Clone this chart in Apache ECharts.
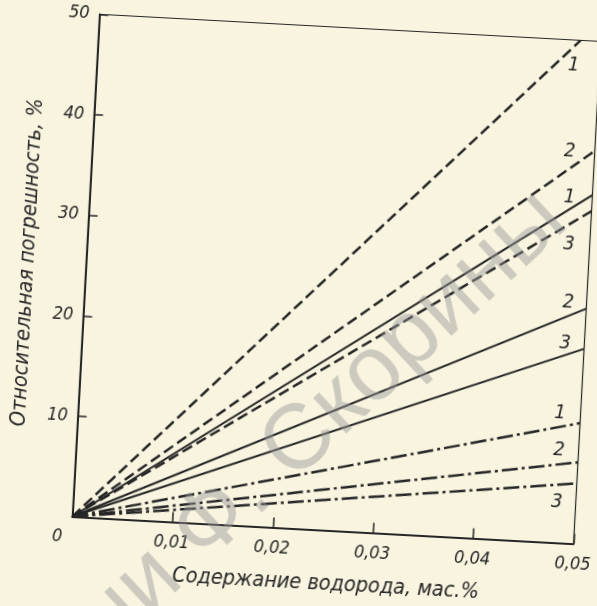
<!DOCTYPE html>
<html><head><meta charset="utf-8">
<script src="https://cdn.jsdelivr.net/npm/echarts@6/dist/echarts.min.js"></script>
<style>
html,body{margin:0;padding:0;width:597px;height:606px;overflow:hidden;background:#f8f4e0;}
#c{position:absolute;left:0;top:0;width:700px;height:720px;transform-origin:336.5px 279px;transform:rotate(3.1deg);}
</style></head><body><div id="c"></div>
<script>
// ---- data ----
const xTickLabels = ['0', '0,01', '0,02', '0,03', '0,04', '0,05'];
const yTickLabels = ['', '10', '20', '30', '40', '50'];
const curveNames = ['1', '2', '3'];
// dashed curves 1..3 : [x, y] end points (all start at origin)
const dashedX = [0.048, 0.05, 0.05];
const dashedY = [50, 39.1, 33.1];
// solid curves 1..3
const solidX = [0.05, 0.05, 0.05];
const solidY = [34.7, 23.4, 19.4];
// dash-dot curves 1..3
const dashDotX = [0.05, 0.05, 0.05];
const dashDotY = [12.0, 8.1, 6.0];
const xName = 'Содержание водорода, мас.%';
const yName = 'Относительная погрешность, %';
const watermarkA = 'ГГУ имени Ф. ';
const watermarkB = 'Скорины';

// ---- styles ----
const ink = '#262626';
const font = "'Liberation Sans Narrow','DejaVu Sans Condensed','Liberation Sans',sans-serif";
const dashedOffsets = [[-5.6, 25.3], [-25, 1.4], [-20.7, 34.7]];
const solidOffsets = [[-22.9, 3.2], [-18.3, -5.5], [-19.3, -5]];
const dashDotOffsets = [[-20.5, -9.4], [-19.6, -11.5], [-19, 19.6]];

function mkSeries(xs, ys, offsets, lineType, width) {
  return xs.map((x, i) => ({
    type: 'line',
    name: curveNames[i],
    data: [[0, 0], [x, ys[i]]],
    symbol: 'none',
    silent: true,
    clip: true,
    lineStyle: { color: ink, width: width, type: lineType },
    markPoint: {
      symbol: 'circle', symbolSize: 1,
      itemStyle: { color: 'rgba(0,0,0,0)' },
      label: {
        show: true, position: 'inside', formatter: curveNames[i],
        offset: offsets[i], color: ink, fontFamily: font, fontStyle: 'italic', fontSize: 20
      },
      data: [{ type: 'max' }]
    }
  }));
}

const chart = echarts.init(document.getElementById('c'), null, { renderer: 'canvas' });
const tickIdx = v => Math.round(v / 0.01);
chart.setOption({
  animation: false,
  backgroundColor: 'transparent',
  grid: {
    left: 85.5, top: 27.5, width: 502, height: 503,
    show: true, borderColor: ink, borderWidth: 1.2, backgroundColor: 'transparent',
    containLabel: false, outerBoundsMode: 'none'
  },
  xAxis: {
    type: 'value', min: 0, max: 0.05, interval: 0.01,
    axisLine: { lineStyle: { color: ink, width: 2 } },
    axisTick: { inside: true, length: 10, lineStyle: { color: ink, width: 1.5 } },
    splitLine: { show: false },
    axisLabel: {
      margin: 12, color: ink, fontFamily: font, fontStyle: 'italic', fontSize: 18,
      formatter: v => { const t = xTickLabels[tickIdx(v)]; return tickIdx(v) === 0 ? '{z|' + t + '}' : t; },
      rich: { z: { padding: [0, 28, 0, 0], color: ink, fontFamily: font, fontStyle: 'italic', fontSize: 18 } }
    },
    name: xName, nameLocation: 'middle', nameGap: 43,
    nameTextStyle: { color: ink, fontFamily: font, fontStyle: 'italic', fontSize: 21.5, padding: [0, 0, 0, 11] }
  },
  yAxis: {
    type: 'value', min: 0, max: 50, interval: 10,
    axisLine: { lineStyle: { color: ink, width: 2 } },
    axisTick: { inside: true, length: 9, lineStyle: { color: ink, width: 1.5 } },
    splitLine: { show: false },
    axisLabel: {
      margin: 10, color: ink, fontFamily: font, fontStyle: 'italic', fontSize: 18,
      formatter: v => yTickLabels[Math.round(v / 10)]
    },
    name: yName, nameLocation: 'middle', nameGap: 47,
    nameTextStyle: { color: ink, fontFamily: font, fontStyle: 'italic', fontSize: 21.5 }
  },
  graphic: [
    { type: 'text', x: 285.9, y: 467.5, rotation: 46 * Math.PI / 180, z: 100, silent: true,
      style: { text: watermarkB, fill: 'rgba(150,150,150,0.45)', font: "92px 'Liberation Sans',sans-serif", textAlign: 'left', textVerticalAlign: 'middle' } },
    { type: 'text', x: 285.9, y: 467.5, rotation: 46 * Math.PI / 180, z: 100, silent: true,
      style: { text: watermarkA, fill: 'rgba(150,150,150,0.45)', font: "92px 'Liberation Sans',sans-serif", textAlign: 'right', textVerticalAlign: 'middle' } }
  ],
  series: [].concat(
    mkSeries(dashedX, dashedY, dashedOffsets, [11, 5], 2.5),
    mkSeries(solidX, solidY, solidOffsets, 'solid', 2),
    mkSeries(dashDotX, dashDotY, dashDotOffsets, [16, 4, 3, 4], 2.5)
  )
});
</script></body></html>
